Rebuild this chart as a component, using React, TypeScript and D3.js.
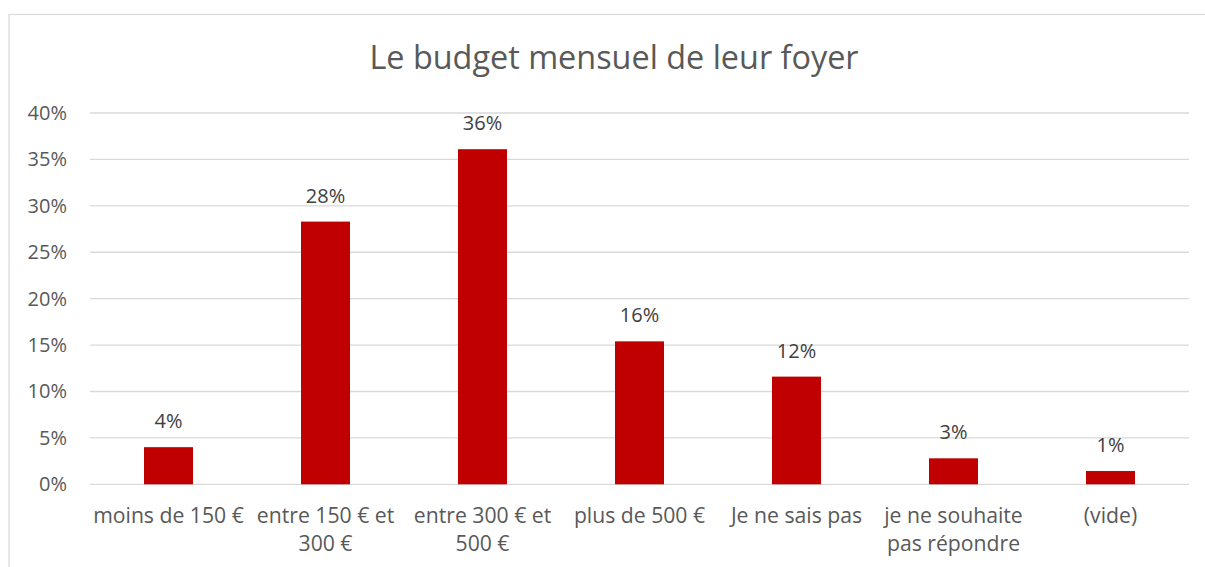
import React from "react";
import * as d3 from "d3";

const title = "Le budget mensuel de leur foyer";
const categories = [
  ["moins de 150 €"],
  ["entre 150 € et", "300 €"],
  ["entre 300 € et", "500 €"],
  ["plus de 500 €"],
  ["Je ne sais pas"],
  ["je ne souhaite", "pas répondre"],
  ["(vide)"],
];
const values = [0.04, 0.283, 0.361, 0.154, 0.116, 0.028, 0.0143];
const valueLabels = ["4%", "28%", "36%", "16%", "12%", "3%", "1%"];
const yTicks = [0, 0.05, 0.1, 0.15, 0.2, 0.25, 0.3, 0.35, 0.4];

export default function App() {
  const W = 1205;
  const H = 567;
  const left = 90;
  const right = 1189;
  const top = 113;
  const bottom = 484.3;
  const font = "'Open Sans', sans-serif";
  const x = d3
    .scaleBand<number>()
    .domain(categories.map((_, i) => i))
    .range([left, right])
    .padding(0);
  const y = d3.scaleLinear().domain([0, 0.4]).range([bottom, top]);
  const barW = x.bandwidth() * 0.312;
  const fmt = d3.format(".0%");
  return (
    <svg
      width={W}
      height={H}
      style={{ position: "absolute", left: 0, top: 0, background: "#fff" }}
    >
      <rect x={9} y={14.5} width={1230} height={600} fill="#fff" stroke="#D9D9D9" strokeWidth={1.2} />
      <text
        x={614}
        y={69}
        textAnchor="middle"
        fontFamily={font}
        fontSize={32.4}
        fill="#595959"
      >
        {title}
      </text>
      {yTicks.map((t) => (
        <g key={t}>
          <line x1={left} x2={right} y1={y(t)} y2={y(t)} stroke="#D9D9D9" strokeWidth={1.3} />
          <text
            x={67}
            y={y(t) + 7}
            textAnchor="end"
            fontFamily={font}
            fontSize={20}
            fill="#595959"
          >
            {fmt(t)}
          </text>
        </g>
      ))}
      {values.map((v, i) => {
        const cx = (x(i) as number) + x.bandwidth() / 2;
        return (
          <g key={i}>
            <rect x={cx - barW / 2} y={y(v)} width={barW} height={bottom - y(v)} fill="#C00000" />
            <text
              x={cx}
              y={y(v) - 19}
              textAnchor="middle"
              fontFamily={font}
              fontSize={20}
              fill="#404040"
            >
              {valueLabels[i]}
            </text>
            {categories[i].map((line, j) => (
              <text
                key={j}
                x={cx}
                y={523 + j * 28}
                textAnchor="middle"
                fontFamily={font}
                fontSize={21.2}
                fill="#595959"
              >
                {line}
              </text>
            ))}
          </g>
        );
      })}
    </svg>
  );
}
